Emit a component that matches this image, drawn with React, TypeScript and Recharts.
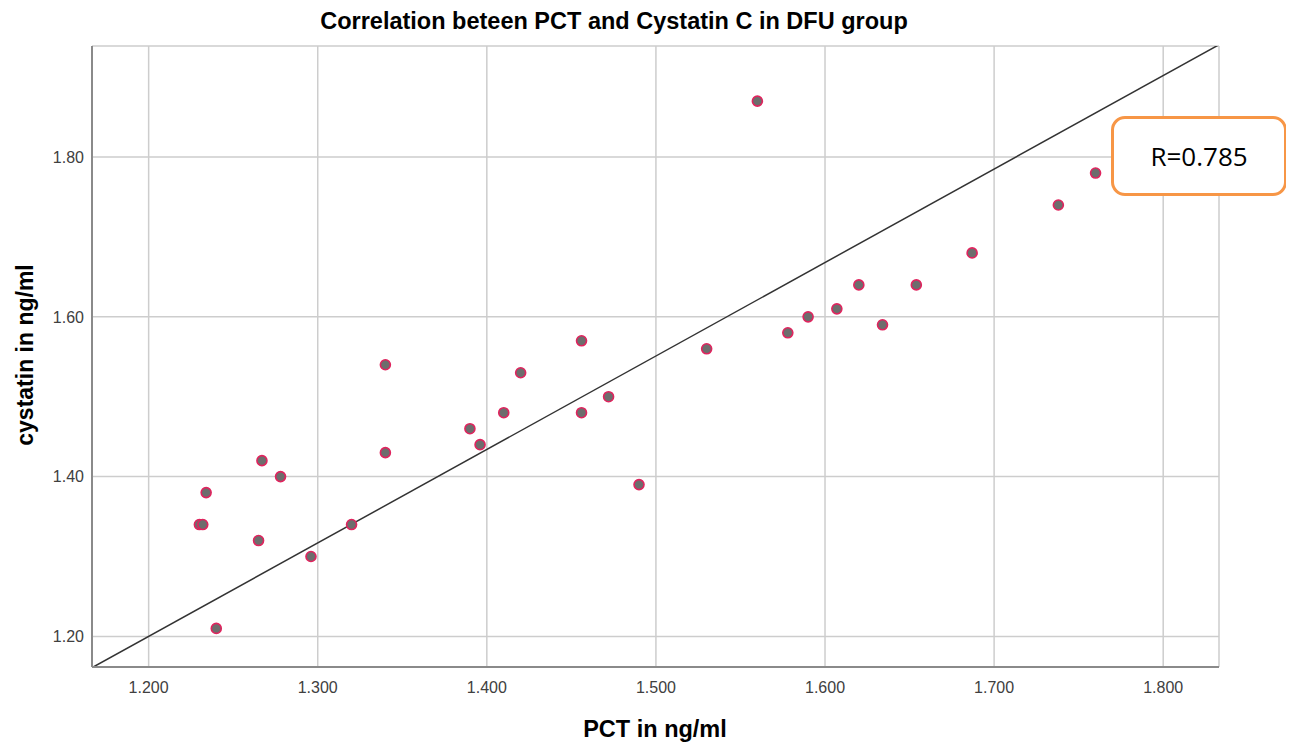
import React from 'react';
import { ComposedChart, Scatter, Line, XAxis, YAxis, CartesianGrid, Customized } from 'recharts';

// PCT (x) and cystatin C (y), one entry per DFU patient
const pctValues = [
  1.230, 1.232, 1.234, 1.240, 1.265, 1.267, 1.278, 1.296, 1.320, 1.340,
  1.340, 1.390, 1.396, 1.410, 1.420, 1.456, 1.456, 1.472, 1.490, 1.530,
  1.560, 1.578, 1.590, 1.607, 1.620, 1.634, 1.654, 1.687, 1.738, 1.760,
];
const cystatinValues = [
  1.34, 1.34, 1.38, 1.21, 1.32, 1.42, 1.40, 1.30, 1.34, 1.54,
  1.43, 1.46, 1.44, 1.48, 1.53, 1.57, 1.48, 1.50, 1.39, 1.56,
  1.87, 1.58, 1.60, 1.61, 1.64, 1.59, 1.64, 1.68, 1.74, 1.78,
];

const xTicks = [1.2, 1.3, 1.4, 1.5, 1.6, 1.7, 1.8];
const yTicks = [1.2, 1.4, 1.6, 1.8];
const xDomain = [1.1665, 1.833];
const yDomain = [1.1617, 1.939];

// fitted line y = intercept + slope * x
const fitSlope = 1.17;
const fitIntercept = -0.204;
const rValue = 0.785;

const points = pctValues.map((x, i) => ({ x, y: cystatinValues[i] }));
const fitLine = xDomain.map(x => ({ x, fit: fitIntercept + fitSlope * x }));

const FONT = '"Liberation Sans", Arial, sans-serif';

const Dot = (props: any) => {
  const { cx, cy } = props;
  return <circle cx={cx} cy={cy} r={5} fill="#6d6d6d" stroke="#e0245e" strokeWidth={1.6} />;
};

const Titles = () => (
  <g fontFamily={FONT} fontWeight="bold" fill="#000">
    <text x={606} y={21} fontSize={23.5} textAnchor="middle">
      Correlation beteen PCT and Cystatin C in DFU group
    </text>
    <text x={647} y={729} fontSize={23.5} textAnchor="middle">
      PCT in ng/ml
    </text>
    <text x={25} y={347} fontSize={23} textAnchor="middle" transform="rotate(-90 25 347)">
      cystatin in ng/ml
    </text>
  </g>
);

export default function App() {
  return (
    <div style={{ position: 'relative', width: 1278, height: 739 }}>
      <ComposedChart
        width={1278}
        height={739}
        data={fitLine}
        margin={{ top: 38, right: 67, left: 0, bottom: 0 }}
      >
        <CartesianGrid stroke="#cdcdcd" strokeWidth={1.5} />
        <XAxis
          dataKey="x"
          type="number"
          domain={xDomain}
          ticks={xTicks}
          allowDataOverflow
          tickFormatter={(v: number) => v.toFixed(3)}
          axisLine={{ stroke: '#8a8a8a', strokeWidth: 2 }}
          tickLine={false}
          tickMargin={9}
          height={80}
          tick={{ fontSize: 16, fill: '#404040', fontFamily: FONT }}
        />
        <YAxis
          dataKey="y"
          type="number"
          domain={yDomain}
          ticks={yTicks}
          allowDataOverflow
          tickFormatter={(v: number) => v.toFixed(2)}
          axisLine={{ stroke: '#8a8a8a', strokeWidth: 2 }}
          tickLine={false}
          width={84}
          tick={{ fontSize: 16, fill: '#404040', fontFamily: FONT }}
        />
        <Line
          data={fitLine}
          dataKey="fit"
          type="linear"
          stroke="#333"
          strokeWidth={1.5}
          dot={false}
          activeDot={false}
          isAnimationActive={false}
        />
        <Scatter data={points} dataKey="y" shape={<Dot />} isAnimationActive={false} />
        <Customized component={Titles} />
      </ComposedChart>
      <div
        style={{
          position: 'absolute',
          left: 1103,
          top: 108,
          width: 170,
          height: 74,
          border: '3px solid #f79646',
          borderRadius: 14,
          background: '#fff',
          display: 'flex',
          alignItems: 'center',
          justifyContent: 'center',
          fontFamily: '"Open Sans", sans-serif',
          fontSize: 26,
          color: '#000',
        }}
      >
        R={rValue.toFixed(3)}
      </div>
    </div>
  );
}
